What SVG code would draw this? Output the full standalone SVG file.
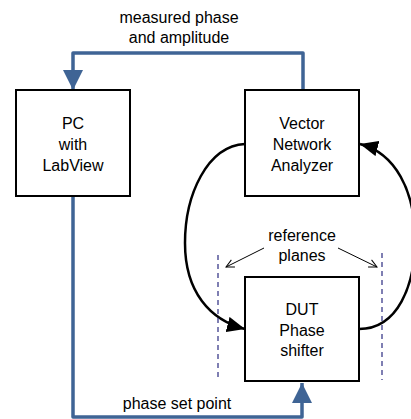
<svg xmlns="http://www.w3.org/2000/svg" width="411" height="419" viewBox="0 0 411 419">
  <style>
    .box { fill: #ffffff; stroke: #000000; stroke-width: 2; }
    .lbl { font-family: "Liberation Sans", Arial, sans-serif; font-size: 16px; fill: #000000; text-anchor: middle; }
    .ctrl { fill: none; stroke: #3f6495; stroke-width: 3.5; stroke-linejoin: round; }
    .rf { fill: none; stroke: #000000; stroke-width: 2.5; }
    .ref { fill: none; stroke: #000000; stroke-width: 1; }
    .plane { fill: none; stroke: #2b2b80; stroke-width: 1.2; stroke-dasharray: 5 4; }
  </style>
  <defs>
    <marker id="blueHead" markerUnits="userSpaceOnUse" markerWidth="20" markerHeight="20" viewBox="0 0 18 18" refX="18" refY="9" orient="auto">
      <path d="M0,0 L18,9 L0,18 Z" fill="#3f6495"/>
    </marker>
    <marker id="blackHead" markerUnits="userSpaceOnUse" markerWidth="18" markerHeight="16" viewBox="0 0 16 14" refX="16" refY="7" orient="auto">
      <path d="M0,0 L16,7 L0,14 Z" fill="#000000"/>
    </marker>
    <marker id="openHead" markerUnits="userSpaceOnUse" markerWidth="10" markerHeight="10" viewBox="0 0 10 10" refX="9" refY="5" orient="auto">
      <path d="M1,1 L9,5 L1,9" fill="none" stroke="#000000" stroke-width="1"/>
    </marker>
  </defs>

  <!-- connectors -->
  <g id="connectors">
    <!-- VNA to PC: measured data -->
    <path class="ctrl" d="M303,90 V53 H73 V90" marker-end="url(#blueHead)"/>
    <!-- PC to DUT: set point -->
    <path class="ctrl" d="M73,197 V417 H302 V383" marker-end="url(#blueHead)"/>
    <!-- RF path VNA -> DUT -->
    <path class="rf" d="M245,144 C207,146 185,195 185,243 C185,292 210,320 245,329" marker-end="url(#blackHead)"/>
    <!-- RF path DUT -> VNA -->
    <path class="rf" d="M359,329 C398,329 415,285 415,240 C415,190 395,153 360,144" marker-end="url(#blackHead)"/>
    <!-- reference plane markers -->
    <line class="plane" x1="218" y1="255" x2="218" y2="380"/>
    <line class="plane" x1="382" y1="253" x2="382" y2="380"/>
    <line class="ref" x1="264" y1="248" x2="226" y2="267" marker-end="url(#openHead)"/>
    <line class="ref" x1="338" y1="248" x2="377" y2="267" marker-end="url(#openHead)"/>
  </g>

  <g id="pc">
    <rect class="box" x="16" y="90" width="114" height="106"/>
    <text class="lbl" x="73" y="129">PC</text>
    <text class="lbl" x="73" y="150">with</text>
    <text class="lbl" x="73" y="171">LabView</text>
  </g>

  <g id="vna">
    <rect class="box" x="245" y="90" width="114" height="106"/>
    <text class="lbl" x="302" y="129">Vector</text>
    <text class="lbl" x="302" y="150">Network</text>
    <text class="lbl" x="302" y="171">Analyzer</text>
  </g>

  <g id="dut">
    <rect class="box" x="245" y="277" width="114" height="104"/>
    <text class="lbl" x="302" y="315">DUT</text>
    <text class="lbl" x="302" y="336">Phase</text>
    <text class="lbl" x="302" y="356">shifter</text>
  </g>

  <g id="labels">
    <text class="lbl" x="179" y="23">measured phase</text>
    <text class="lbl" x="179" y="43">and amplitude</text>
    <text class="lbl" x="302" y="241">reference</text>
    <text class="lbl" x="302" y="261">planes</text>
    <text class="lbl" x="177" y="409">phase set point</text>
  </g>
</svg>
